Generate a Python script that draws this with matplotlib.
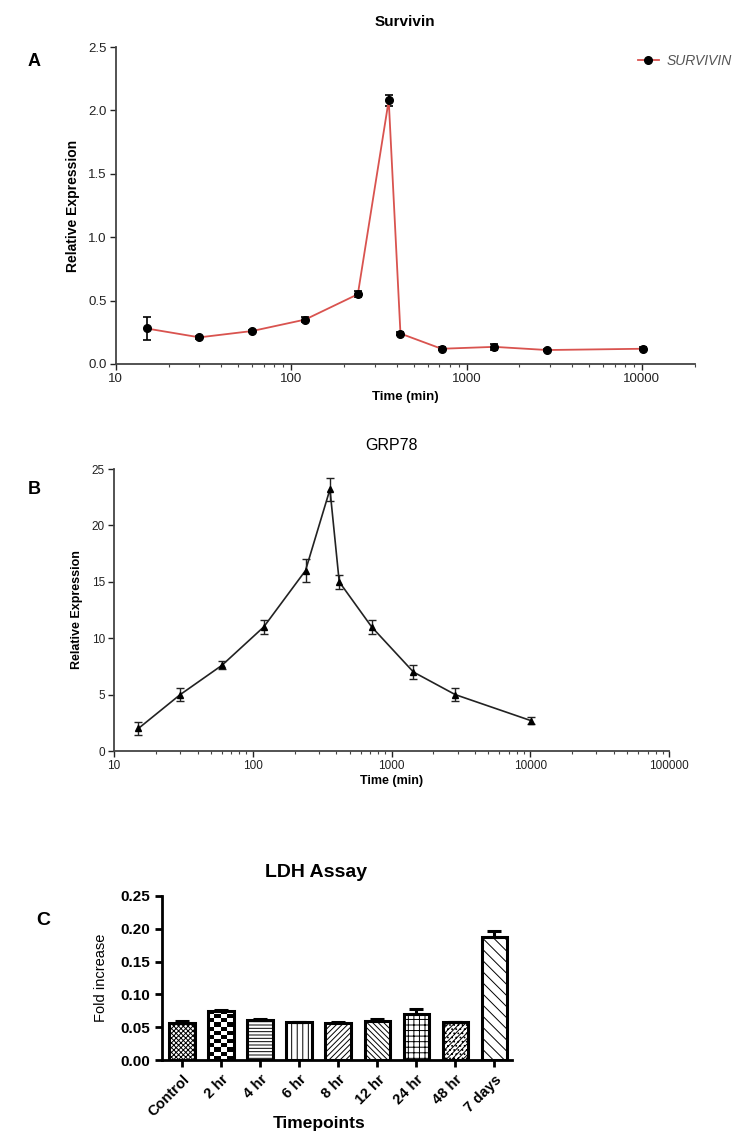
import matplotlib
matplotlib.use("Agg")
import matplotlib.pyplot as plt
from matplotlib.ticker import FixedLocator, NullFormatter, LogLocator, FuncFormatter
from matplotlib.lines import Line2D
import numpy as np

plt.rcParams['font.family'] = ['Liberation Sans', 'DejaVu Sans']
plt.rcParams['hatch.linewidth'] = 0.7

# Panel A - Survivin
time_min = [15, 30, 60, 120, 240, 360, 420, 720, 1440, 2880, 10080]
survivin = [0.28, 0.21, 0.26, 0.35, 0.55, 2.08, 0.24, 0.12, 0.135, 0.11, 0.12]
survivin_err = [0.09, 0.01, 0.01, 0.02, 0.025, 0.045, 0.01, 0.01, 0.025, 0.01, 0.01]

# Panel B - GRP78
grp78 = [2.0, 5.0, 7.6, 11.0, 16.0, 23.2, 15.0, 11.0, 7.0, 5.0, 2.7]
grp78_err = [0.6, 0.6, 0.35, 0.6, 1.0, 1.0, 0.6, 0.6, 0.6, 0.6, 0.3]

# Panel C - LDH assay
ldh_labels = ['Control', '2 hr', '4 hr', '6 hr', '8 hr', '12 hr', '24 hr', '48 hr', '7 days']
ldh = [0.056, 0.075, 0.061, 0.058, 0.056, 0.060, 0.070, 0.058, 0.188]
ldh_err = [0.003, 0.001, 0.002, 0.0005, 0.002, 0.003, 0.007, 0.0005, 0.009]
ldh_hatch = ['xxxxxxx', None, '-----', '|||', '//////', '\\\\\\\\\\\\', '+++', '//////....', '\\\\\\']

fig = plt.figure(figsize=(7.47, 11.36), dpi=100)

def log_style(ax, top, size):
    ax.set_xscale('log')
    for s in ['top', 'right']:
        ax.spines[s].set_visible(False)
    for s in ['left', 'bottom']:
        ax.spines[s].set_color('#444444')
        ax.spines[s].set_linewidth(1.3)
    ax.xaxis.set_major_locator(FixedLocator([10 ** k for k in range(1, top + 1)]))
    ax.xaxis.set_major_formatter(FuncFormatter(lambda v, p: '%d' % v))
    ax.xaxis.set_minor_locator(LogLocator(base=10, subs=np.arange(2, 10)))
    ax.xaxis.set_minor_formatter(NullFormatter())
    ax.tick_params(axis='both', which='major', direction='out', length=4, width=1.0,
                   colors='#222222', labelsize=size, pad=2.5)
    ax.tick_params(axis='x', which='minor', direction='out', length=2.5, width=0.8, colors='#444444')

# ---- A ----
axA = fig.add_axes([0.155, 0.6796, 0.775, 0.279])
axA.errorbar(time_min, survivin, yerr=survivin_err, color='#d9534f', lw=1.3,
             marker='o', ms=5.5, mfc='black', mec='black', ecolor='black',
             elinewidth=1.2, capsize=3, capthick=1.2)
log_style(axA, 4, 9.5)
axA.set_xlim(10, 20000)
axA.set_ylim(0, 2.5)
axA.set_yticks([0, 0.5, 1.0, 1.5, 2.0, 2.5])
axA.set_yticklabels(['0.0', '0.5', '1.0', '1.5', '2.0', '2.5'])
axA.set_xlabel('Time (min)', fontsize=9.5, fontweight='bold', labelpad=4)
axA.set_ylabel('Relative Expression', fontsize=10, fontweight='bold')
axA.yaxis.set_label_coords(-0.062, 0.5)
axA.set_title('Survivin', fontsize=11, fontweight='bold', pad=15)
handle = Line2D([], [], color='#d9534f', lw=1.3, marker='o', ms=5.5, mfc='black', mec='black')
leg = axA.legend([handle], ['SURVIVIN'], loc='center left', bbox_to_anchor=(0.88, 0.955),
                 frameon=False, handlelength=1.5, handletextpad=0.6,
                 prop={'style': 'italic', 'size': 10})
for t in leg.get_texts():
    t.set_color('#555555')
fig.text(0.037, 0.9455, 'A', fontsize=13, fontweight='bold', va='center')

# ---- B ----
axB = fig.add_axes([0.1526, 0.3389, 0.743, 0.2482])
axB.errorbar(time_min, grp78, yerr=grp78_err, color='#222222', lw=1.2,
             marker='^', ms=4, mfc='black', mec='black', ecolor='#222222',
             elinewidth=1.0, capsize=3, capthick=1.0)
log_style(axB, 5, 8.5)
axB.set_xlim(10, 100000)
axB.set_ylim(0, 25)
axB.set_yticks([0, 5, 10, 15, 20, 25])
axB.set_xlabel('Time (min)', fontsize=9, fontweight='bold', labelpad=2)
axB.set_ylabel('Relative Expression', fontsize=9, fontweight='bold')
axB.yaxis.set_label_coords(-0.055, 0.5)
axB.set_title('GRP78', fontsize=11.5, pad=14)
fig.text(0.037, 0.569, 'B', fontsize=13, fontweight='bold', va='center')

# ---- C ----
axC = fig.add_axes([0.2169, 0.0669, 0.4685, 0.1444])
xpos = np.arange(len(ldh))
bw = 0.66
bars = axC.bar(xpos, ldh, width=bw, color='white', edgecolor='black', linewidth=2.2,
               zorder=2)
for b, h in zip(bars, ldh_hatch):
    if h:
        b.set_hatch(h)
# checkerboard fill for the 2 hr bar
bars[1].set_facecolor('none')
checker = np.indices((12, 4)).sum(axis=0) % 2
img = axC.imshow(checker, cmap='gray', interpolation='nearest', aspect='auto', zorder=1.9,
                 extent=(xpos[1] - bw / 2, xpos[1] + bw / 2, 0, ldh[1]))
img.set_clip_path(bars[1])
axC.errorbar(xpos, ldh, yerr=[np.zeros(len(ldh)), ldh_err], fmt='none', ecolor='black',
             elinewidth=2.2, capsize=5, capthick=2.2, zorder=3)
for s in ['top', 'right']:
    axC.spines[s].set_visible(False)
for s in ['left', 'bottom']:
    axC.spines[s].set_linewidth(2)
axC.set_xlim(-0.52, 8.45)
axC.set_ylim(0, 0.25)
axC.set_yticks([0, 0.05, 0.10, 0.15, 0.20, 0.25])
axC.set_yticklabels(['0.00', '0.05', '0.10', '0.15', '0.20', '0.25'], fontweight='bold')
axC.set_xticks(xpos)
axC.set_xticklabels(ldh_labels, rotation=45, ha='right', rotation_mode='anchor', fontweight='bold')
axC.tick_params(axis='both', direction='out', length=5, width=2, labelsize=11)
axC.tick_params(axis='x', labelsize=10.5, pad=4)
axC.set_ylabel('Fold increase', fontsize=10.5)
axC.yaxis.set_label_coords(-0.155, 0.5)
axC.set_xlabel('Timepoints', fontsize=12.5, fontweight='bold')
axC.xaxis.set_label_coords(0.45, -0.34)
axC.set_title('LDH Assay', fontsize=14, fontweight='bold', pad=14, x=0.44)
fig.text(0.049, 0.19, 'C', fontsize=14, fontweight='bold', va='center')

fig.savefig('out.png', dpi=100)
